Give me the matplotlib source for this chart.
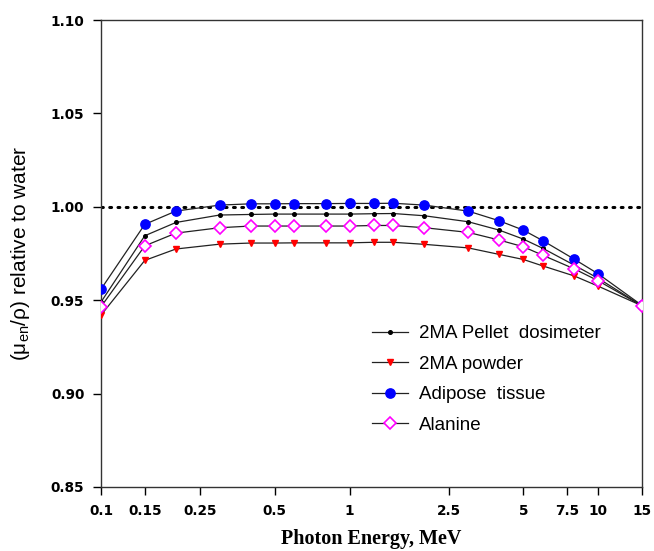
import matplotlib.pyplot as plt
import matplotlib.ticker as ticker
import numpy as np

plt.rcParams['font.family'] = ['DejaVu Sans']

# photon energy (MeV)
energy = [0.1, 0.15, 0.2, 0.3, 0.4, 0.5, 0.6, 0.8, 1.0, 1.25, 1.5, 2, 3, 4, 5, 6, 8, 10, 15]

# (mu_en/rho) relative to water
pellet = [0.9490, 0.9845, 0.9916, 0.9956, 0.9959, 0.9961, 0.9961, 0.9961, 0.9961, 0.9963,
          0.9964, 0.9952, 0.9920, 0.9875, 0.9827, 0.9777, 0.9688, 0.9617, 0.9470]
powder = [0.9420, 0.9713, 0.9774, 0.9800, 0.9806, 0.9806, 0.9807, 0.9807, 0.9807, 0.9810,
          0.9810, 0.9799, 0.9780, 0.9745, 0.9718, 0.9683, 0.9630, 0.9575, 0.9470]
adipose = [0.9559, 0.9906, 0.9977, 1.0009, 1.0016, 1.0016, 1.0017, 1.0017, 1.0018, 1.0018,
           1.0019, 1.0009, 0.9977, 0.9925, 0.9875, 0.9818, 0.9720, 0.9641, 0.9472]
alanine = [0.9465, 0.9791, 0.9859, 0.9888, 0.9897, 0.9897, 0.9897, 0.9897, 0.9897, 0.9900,
           0.9900, 0.9888, 0.9863, 0.9822, 0.9786, 0.9740, 0.9668, 0.9604, 0.9470]

xticks = [0.1, 0.15, 0.25, 0.5, 1, 2.5, 5, 7.5, 10, 15]
xticklabels = ['0.1', '0.15', '0.25', '0.5', '1', '2.5', '5', '7.5', '10', '15']
yticks = [0.85, 0.90, 0.95, 1.00, 1.05, 1.10]

fig = plt.figure(figsize=(6.54, 5.51), dpi=100)
ax = fig.add_axes([101/654, 1-487/551, (642-101)/654, (487-20)/551])

# reference line (water)
ax.plot([0.1, 15], [1.0, 1.0], color='black', linestyle=(0, (0.6, 2.1)), linewidth=2.2,
        dash_capstyle='round', zorder=1)

lc = '#222222'
ax.plot(energy, pellet, color=lc, lw=0.9, marker='o', ms=2.6, mfc='black', mec='black',
        label='2MA Pellet  dosimeter', zorder=3)
ax.plot(energy, powder, color=lc, lw=0.9, marker='v', ms=5, mfc='red', mec='red',
        label='2MA powder', zorder=3)
ax.plot(energy, adipose, color=lc, lw=0.9, marker='o', ms=6.7, mfc='blue', mec='blue',
        label='Adipose  tissue', zorder=3)
ax.plot(energy, alanine, color=lc, lw=0.9, marker='D', ms=6.2, mfc='white', mec='magenta',
        mew=1.2, label='Alanine', zorder=3)

ax.set_xscale('log')
ax.set_xlim(0.1, 15)
ax.set_ylim(0.85, 1.10)
ax.xaxis.set_major_locator(ticker.FixedLocator(xticks))
ax.xaxis.set_major_formatter(ticker.FixedFormatter(xticklabels))
ax.xaxis.set_minor_locator(ticker.NullLocator())
ax.set_yticks(yticks)
ax.set_yticklabels(['%.2f' % v for v in yticks])

ax.tick_params(axis='both', direction='out', length=6, width=1, labelsize=9.8, pad=6)
for lab in ax.get_xticklabels() + ax.get_yticklabels():
    lab.set_fontweight('bold')
for s in ax.spines.values():
    s.set_linewidth(1.0)
    s.set_color('#333333')

ax.set_xlabel('Photon Energy, MeV', family='Liberation Serif', fontweight='bold',
              fontsize=14.5, labelpad=8)
ax.set_ylabel(r'($\mathregular{\mu_{en}/\rho}$) relative to water', family='Liberation Sans',
              fontsize=15)
ax.yaxis.set_label_coords(-0.128, 0.5)

leg = ax.legend(loc='upper left', bbox_to_anchor=(0.4695, 0.3827), frameon=False,
                prop={'family': 'Liberation Sans', 'size': 13.5}, handlelength=1.92,
                handletextpad=0.59, labelspacing=0.71)

fig.savefig('out.png', dpi=100)
